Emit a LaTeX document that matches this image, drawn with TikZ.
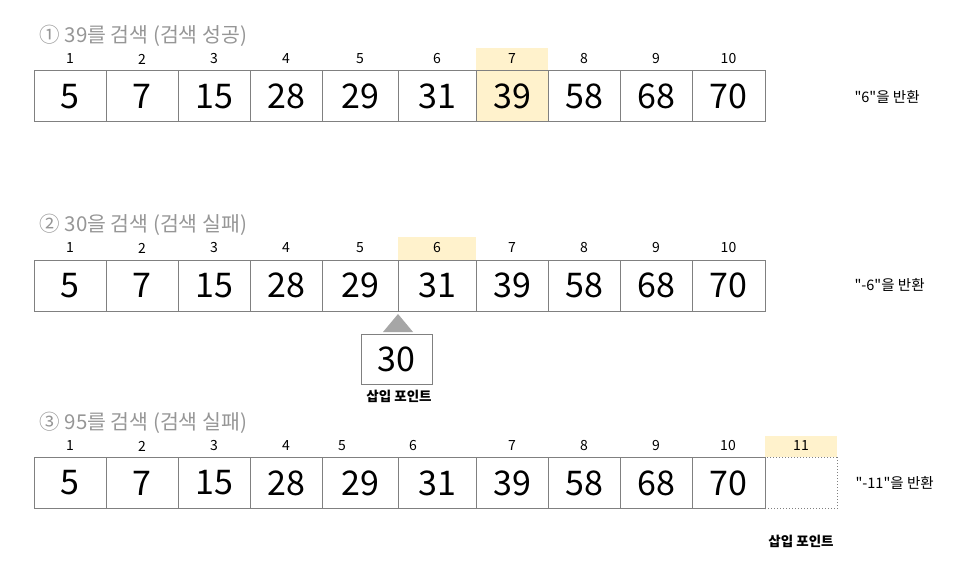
\documentclass[tikz,border=0pt]{standalone}
\usepackage{fontspec}
\setmainfont{Noto Sans CJK KR}[Ligatures=TeXOff]
\usetikzlibrary{positioning,calc}
\definecolor{cellline}{RGB}{128,128,128}
\definecolor{hilite}{RGB}{255,242,204}
\definecolor{titlegray}{RGB}{150,150,150}
\definecolor{trigray}{RGB}{166,166,166}

\begin{document}
\begin{tikzpicture}[x=1pt,y=-1pt,
  cell/.style={draw=cellline,line width=1pt,minimum height=51pt,inner sep=0pt,
    font=\fontsize{34}{34}\selectfont},
  idx/.style={inner sep=0pt,font=\fontsize{14}{14}\selectfont},
  title/.style={anchor=west,text=titlegray,font=\fontsize{20.5}{20.5}\selectfont},
  result/.style={anchor=west,font=\fontsize{14.5}{14.5}\selectfont},
  inslabel/.style={font=\bfseries\fontsize{13.5}{13.5}\selectfont}]
\useasboundingbox (0,0) rectangle (971,575);

% (1) search 39
\node[title] (ta) at (36,36) {① 39를 검색 (검색 성공)};
\fill[hilite] (476,48) rectangle (548,122);
\foreach \i/\l/\r/\v in {1/34/106/5,2/106/178/7,3/178/250/15,4/250/322/28,5/322/398/29,
    6/398/476/31,7/476/548/39,8/548/620/58,9/620/692/68,10/692/765/70} {
  \node[idx] (ia\i) at ({(\l+\r)/2},59) {\i};
  \node[cell,minimum width={\r-\l}] (a\i) at ({(\l+\r)/2},96.5) {\v};
}
\node[result] (ra) at (851,97) {"6"을 반환};

% (2) search 30
\node[title] (tb) at (36,225) {② 30을 검색 (검색 실패)};
\fill[hilite] (398,237) rectangle (476,260);
\foreach \i/\l/\r/\v in {1/34/106/5,2/106/178/7,3/178/250/15,4/250/322/28,5/322/398/29,
    6/398/476/31,7/476/548/39,8/548/620/58,9/620/692/68,10/692/765/70} {
  \node[idx] (ib\i) at ({(\l+\r)/2},248) {\i};
  \node[cell,minimum width={\r-\l}] (b\i) at ({(\l+\r)/2},285.5) {\v};
}
\node[result] (rb) at (851,285) {"-6"을 반환};
\fill[trigray] (383,332) -- (398,314) -- (413,332) -- cycle;
\node[cell,minimum width=71pt,minimum height=50pt] (ins) at (396.5,359) {30};
\node[inslabel] (insa) at (399,396) {삽입 포인트};

% (3) search 95
\node[title] (tc) at (36,423) {③ 95를 검색 (검색 실패)};
\fill[hilite] (765,436) rectangle (837,457);
\foreach \i/\x in {1/70,2/142,3/214,4/286,5/342,6/413,7/512,8/584,9/656,10/728,11/801}
  \node[idx] (ic\i) at (\x,446) {\i};
\foreach \i/\l/\r/\v in {1/34/106/5,2/106/178/7,3/178/250/15,4/250/322/28,5/322/398/29,
    6/398/476/31,7/476/548/39,8/548/620/58,9/620/692/68,10/692/765/70}
  \node[cell,minimum width={\r-\l}] (c\i) at ({(\l+\r)/2},483) {\v};
\node[cell,dotted,minimum width=72pt] (c11) at (801,483) {};
\node[result] (rc) at (852,483) {"-11"을 반환};
\node[inslabel] (insb) at (801,541) {삽입 포인트};
\end{tikzpicture}
\end{document}
